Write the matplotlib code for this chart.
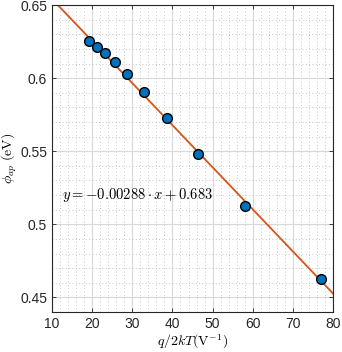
import numpy as np
import matplotlib.pyplot as plt
from matplotlib.ticker import MultipleLocator

plt.rcParams['font.family'] = ['Liberation Sans', 'DejaVu Sans']
plt.rcParams['mathtext.fontset'] = 'cm'

# measured points
q2kT = [19.1, 21.1, 23.2, 25.7, 28.8, 33.0, 38.6, 46.3, 58.0, 77.1]
phi_ap = [0.6254, 0.6215, 0.6174, 0.6113, 0.6029, 0.5908, 0.5727, 0.5483, 0.5128, 0.4623]

# linear fit
slope = -0.00288
intercept = 0.683
fit_x = [10, 80]

fig = plt.figure(figsize=(3.42, 3.52), dpi=100)
ax = fig.add_axes([0.152, 0.1136, 0.822, 0.872])

ax.set_xlim(10, 80)
ax.set_ylim(0.44, 0.65)
ax.xaxis.set_major_locator(MultipleLocator(10))
ax.xaxis.set_minor_locator(MultipleLocator(2))
ax.yaxis.set_major_locator(MultipleLocator(0.05))
ax.yaxis.set_minor_locator(MultipleLocator(0.01))
ax.set_yticks([0.45, 0.5, 0.55, 0.6, 0.65])
ax.set_yticklabels(['0.45', '0.5', '0.55', '0.6', '0.65'])

ax.grid(which='major', color='#d8d8d8', lw=0.8)
ax.grid(which='minor', color='#b4b4b4', lw=0.6, ls=(0, (1, 3)))
ax.set_axisbelow(True)

fx = np.array(fit_x)
ax.plot(fx, slope * fx + intercept, color='#D95319', lw=1.3, zorder=2)
ax.plot(q2kT, phi_ap, 'o', ms=7, mfc='#0072BD', mec='black', mew=1.0, zorder=3)

ax.text(12.4, 0.5203, r'$y = -0.00288 \cdot x + 0.683$', fontsize=10.5,
        va='center', ha='left')

ax.tick_params(which='both', direction='in', top=True, right=True,
               labelsize=10, colors='#262626')
ax.tick_params(which='major', length=3, width=0.6)
ax.tick_params(which='minor', length=0)
for s in ax.spines.values():
    s.set_color('#262626')
    s.set_linewidth(0.8)

ax.set_xlabel(r'$q/2kT(\mathrm{V}^{-1})$', fontsize=10, labelpad=1)
ax.set_ylabel(r'$\phi_{ap}\ (\mathrm{eV})$', fontsize=10, labelpad=1)

fig.savefig('out.png', dpi=100)
